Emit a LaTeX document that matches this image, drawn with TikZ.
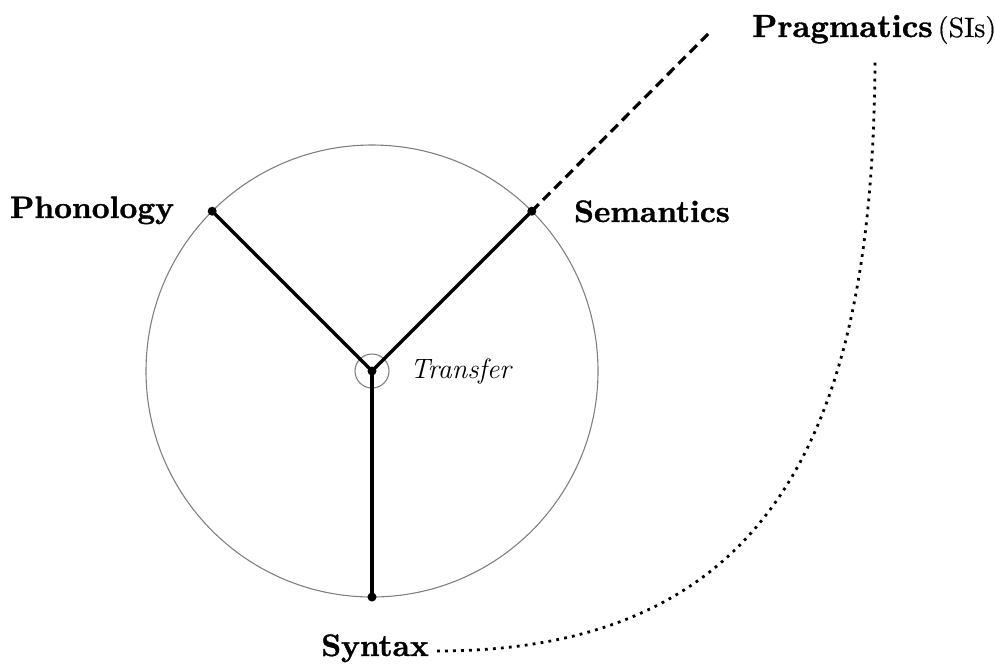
\documentclass[tikz,border=0pt]{standalone}
\usepackage{fontspec}
\newfontface\heavy{lmroman10-bold}[Extension=.otf, FakeBold=1.2]
\newfontface\medium{lmroman10-regular}[Extension=.otf, FakeBold=0.5]
\usetikzlibrary{calc}
\begin{document}
\begin{tikzpicture}[x=1pt,y=-1pt,
  lbl/.style={font=\fontsize{31}{36}\selectfont\heavy, inner sep=0pt, anchor=base},
  branch/.style={line width=3.2pt},
  pt/.style={circle, fill=black, inner sep=0pt, minimum size=9pt},
  ring/.style={draw=gray, line width=1.1pt}]
\useasboundingbox (0,0) rectangle (995,664);
\coordinate (C) at (372,371);
\draw[ring] (C) circle[radius=226];
\draw[ring] (C) circle[radius=17];
\node[pt] (c) at (C) {};
\node[pt] (ph) at (212.2,211.2) {};
\node[pt] (se) at (531.8,211.2) {};
\node[pt] (sy) at (372,597) {};
\draw[branch] (c.center) -- (ph.center);
\draw[branch] (c.center) -- (se.center);
\draw[branch] (c.center) -- (sy.center);
\coordinate (pragend) at (712,30);
\draw[line width=3.2pt, dash pattern=on 10pt off 6pt] (se.center) -- (pragend);
\node[lbl] (phon) at (92,218) {Phonology};
\node[lbl] (sem) at (652,222) {Semantics};
\node[lbl, anchor=base west] (prag) at (752,37) {{\fontsize{32}{36}\selectfont Pragmatics}\hspace{5pt}{\medium\fontsize{28}{32}\selectfont(SIs)}};
\node[lbl] (syn) at (375,656) {Syntax};
\node[font=\fontsize{28}{32}\selectfont\itshape, inner sep=0pt, anchor=base west] (tr) at (410,378) {Transfer};
\coordinate (dstart) at (437,651);
\coordinate (dend) at (875,62);
\draw[line width=2.8pt, dash pattern=on 2.8pt off 5.2pt] (dstart) .. controls (777,651) and (873,422) .. (dend);
\end{tikzpicture}
\end{document}
